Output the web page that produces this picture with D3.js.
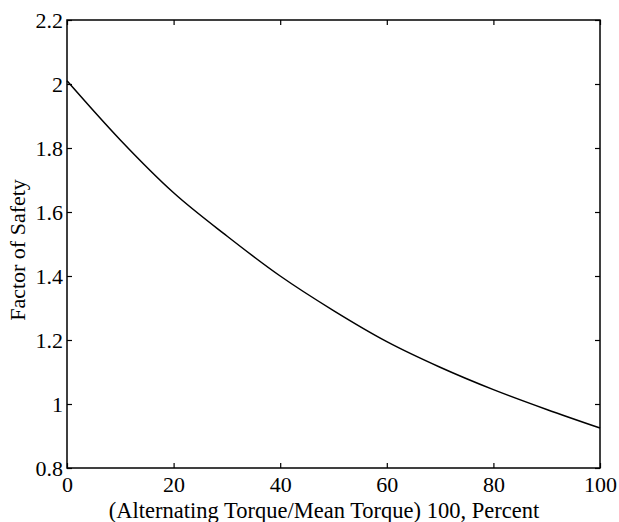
<!DOCTYPE html>
<html>
<head>
<meta charset="utf-8">
<script src="https://cdn.jsdelivr.net/npm/d3@7"></script>
<style>
  body { margin: 0; background: #fff; }
</style>
</head>
<body>
<div id="chart"></div>
<script>
const width = 619, height = 522;
const margin = {top: 20, right: 19, bottom: 54, left: 67};
const serif = "'Liberation Serif', 'Times New Roman', Times, serif";

// data
const percent = [0, 10, 20, 30, 40, 50, 60, 70, 80, 90, 100];
const factorOfSafety = [2.01, 1.825, 1.66, 1.525, 1.40, 1.292, 1.195, 1.115, 1.045, 0.983, 0.925];
const xTicks = [0, 20, 40, 60, 80, 100];
const yTicks = [0.8, 1, 1.2, 1.4, 1.6, 1.8, 2, 2.2];

const data = percent.map((p, i) => ({p: p, f: factorOfSafety[i]}));

const svg = d3.select('#chart').append('svg')
    .attr('width', width)
    .attr('height', height);

const x = d3.scaleLinear()
    .domain([0, 100])
    .range([margin.left, width - margin.right]);

const y = d3.scaleLinear()
    .domain([0.8, 2.2])
    .range([height - margin.bottom, margin.top]);

// bottom axis with labels, ticks pointing inward
svg.append("g")
    .attr("transform", `translate(0,${height - margin.bottom})`)
    .call(d3.axisBottom(x).tickValues(xTicks).tickSize(-5).tickSizeOuter(0).tickPadding(8).tickFormat(d3.format("d")));

// left axis with labels
svg.append("g")
    .attr("transform", `translate(${margin.left},0)`)
    .call(d3.axisLeft(y).tickValues(yTicks).tickSize(-5).tickSizeOuter(0).tickPadding(4).tickFormat(d => String(d)));

// mirrored ticks on top and right
svg.append("g")
    .attr("transform", `translate(0,${margin.top})`)
    .call(d3.axisTop(x).tickValues(xTicks).tickSize(-5).tickSizeOuter(0).tickFormat(""));

svg.append("g")
    .attr("transform", `translate(${width - margin.right},0)`)
    .call(d3.axisRight(y).tickValues(yTicks).tickSize(-5).tickSizeOuter(0).tickFormat(""));

svg.selectAll(".domain").remove();
svg.selectAll("g").attr("font-family", serif);
svg.selectAll(".tick line").attr("stroke", "#000").attr("stroke-width", 1.2);
svg.selectAll(".tick text")
    .attr("fill", "#000")
    .style("font-family", serif)
    .style("font-size", "22px");

// frame
svg.append("rect")
    .attr("x", margin.left)
    .attr("y", margin.top)
    .attr("width", width - margin.left - margin.right)
    .attr("height", height - margin.top - margin.bottom)
    .attr("fill", "none")
    .attr("stroke", "#000")
    .attr("stroke-width", 1.5);

// curve
const line = d3.line()
    .x(d => x(d.p))
    .y(d => y(d.f))
    .curve(d3.curveMonotoneX);

svg.append("path")
    .datum(data)
    .attr("fill", "none")
    .attr("stroke", "#000")
    .attr("stroke-width", 1.5)
    .attr("d", line);

// axis titles
svg.append("text")
    .attr("x", 324)
    .attr("y", 518)
    .attr("text-anchor", "middle")
    .style("font-family", serif)
    .style("font-size", "22.5px")
    .text("(Alternating Torque/Mean Torque) 100, Percent");

svg.append("text")
    .attr("transform", "translate(25,250) rotate(-90)")
    .attr("text-anchor", "middle")
    .style("font-family", serif)
    .style("font-size", "22px")
    .text("Factor of Safety");
</script>
</body>
</html>
